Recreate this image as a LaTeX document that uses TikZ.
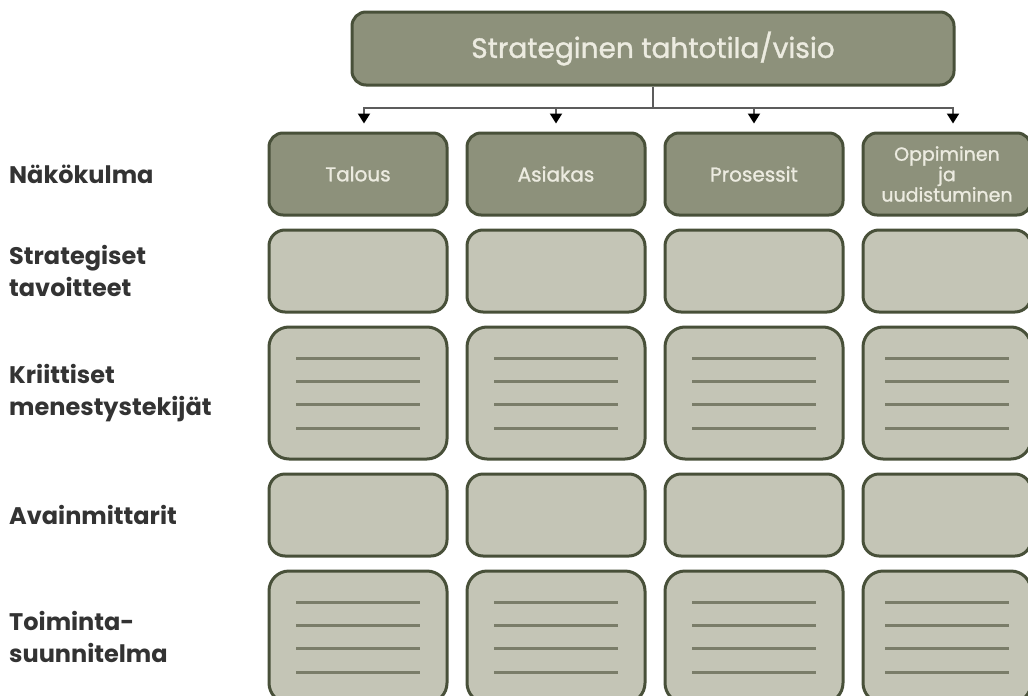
\documentclass[tikz,border=0pt]{standalone}
\usepackage{fontspec}
\setmainfont{Poppins}
\newfontfamily\boxfont[FakeBold=1.2]{Poppins}
\usepackage{tikz}
\usetikzlibrary{arrows.meta,positioning}

\definecolor{headfill}{HTML}{8D917B}
\definecolor{cellfill}{HTML}{C4C5B6}
\definecolor{framecol}{HTML}{485039}
\definecolor{rulecol}{HTML}{7A7D69}
\definecolor{headtext}{HTML}{ECEBE0}
\definecolor{labeltext}{HTML}{333333}
\definecolor{linkcol}{HTML}{5C5C5C}

\begin{document}
\begin{tikzpicture}
    [x=1pt, y=-1pt, node distance=12pt and 17pt,
    % STYLES
    % The head style is used for the vision box and the perspectives
    head/.style={rectangle, rounded corners=14pt, draw=framecol, line width=3pt, fill=headfill, text=headtext, inner sep=0pt, minimum width=178pt, minimum height=82pt, align=center, font=\boxfont\fontsize{20}{20}\selectfont},
    % The cell style is used for the empty boxes of the grid
    cell/.style={rectangle, rounded corners=16pt, draw=framecol, line width=3pt, fill=cellfill, inner sep=0pt, minimum width=178pt, minimum height=82pt},
    % The lined style is used for the tall boxes with four rules
    lined/.style={cell, rounded corners=20pt, minimum height=132pt, path picture={
        \draw[rulecol, line width=3pt] ([shift={(-62pt,35pt)}]path picture bounding box.center) -- ++(124pt,0pt);
        \draw[rulecol, line width=3pt] ([shift={(-62pt,11.7pt)}]path picture bounding box.center) -- ++(124pt,0pt);
        \draw[rulecol, line width=3pt] ([shift={(-62pt,-11.7pt)}]path picture bounding box.center) -- ++(124pt,0pt);
        \draw[rulecol, line width=3pt] ([shift={(-62pt,-35pt)}]path picture bounding box.center) -- ++(124pt,0pt);
    }},
    last/.style={minimum width=168pt},
    rowlabel/.style={anchor=west, align=left, text=labeltext, inner sep=0pt, font=\fontsize{24}{32}\selectfont\bfseries},
    link/.style={draw=linkcol, line width=2pt},
    feed/.style={link, -{Triangle[length=10pt, width=12pt, color=black]}}]

    \useasboundingbox (0,0) rectangle (1028,696);

    % Draw vision
    \node [head, minimum width=602pt, minimum height=73pt, font=\boxfont\fontsize{28}{28}\selectfont] (vision) at (653,48.5) {Strateginen tahtotila/visio};

    % Draw perspectives
    \node [head] (p1) at (358,174) {Talous};
    \node [head, right=of p1] (p2) {Asiakas};
    \node [head, right=of p2] (p3) {Prosessit};
    \node [head, last, right=of p3, font=\boxfont\fontsize{19}{19}\selectfont] (p4) {Oppiminen\\ja\\uudistuminen};

    % Strategic goals
    \node [cell, below=of p1] (s1) {};
    \node [cell, below=of p2] (s2) {};
    \node [cell, below=of p3] (s3) {};
    \node [cell, last, below=of p4] (s4) {};

    % Critical success factors
    \node [lined, below=of s1] (k1) {};
    \node [lined, below=of s2] (k2) {};
    \node [lined, below=of s3] (k3) {};
    \node [lined, last, below=of s4] (k4) {};

    % Key indicators
    \node [cell, below=of k1] (a1) {};
    \node [cell, below=of k2] (a2) {};
    \node [cell, below=of k3] (a3) {};
    \node [cell, last, below=of k4] (a4) {};

    % Action plan
    \node [lined, below=of a1] (t1) {};
    \node [lined, below=of a2] (t2) {};
    \node [lined, below=of a3] (t3) {};
    \node [lined, last, below=of a4] (t4) {};

    % Row labels
    \coordinate (margin) at (9,0);
    \node [rowlabel] (l1) at (margin |- p1) {Näkökulma};
    \node [rowlabel] (l2) at (margin |- s1) {Strategiset\\tavoitteet};
    \node [rowlabel] (l3) at (margin |- k1) {Kriittiset\\menestystekijät};
    \node [rowlabel] (l4) at (margin |- a1) {Avainmittarit};
    \node [rowlabel] (l5) at (margin |- t1) {Toiminta-\\suunnitelma};

    \draw[link] (vision.south) -- ++(0,21) coordinate (split);
    \draw[feed] (split) -| ([xshift=6pt, yshift=8pt]p1.north);
    \draw[feed] (split) -| ([yshift=8pt]p2.north);
    \draw[feed] (split) -| ([yshift=8pt]p3.north);
    \draw[feed] (split) -| ([xshift=6pt, yshift=8pt]p4.north);
\end{tikzpicture}
\end{document}
